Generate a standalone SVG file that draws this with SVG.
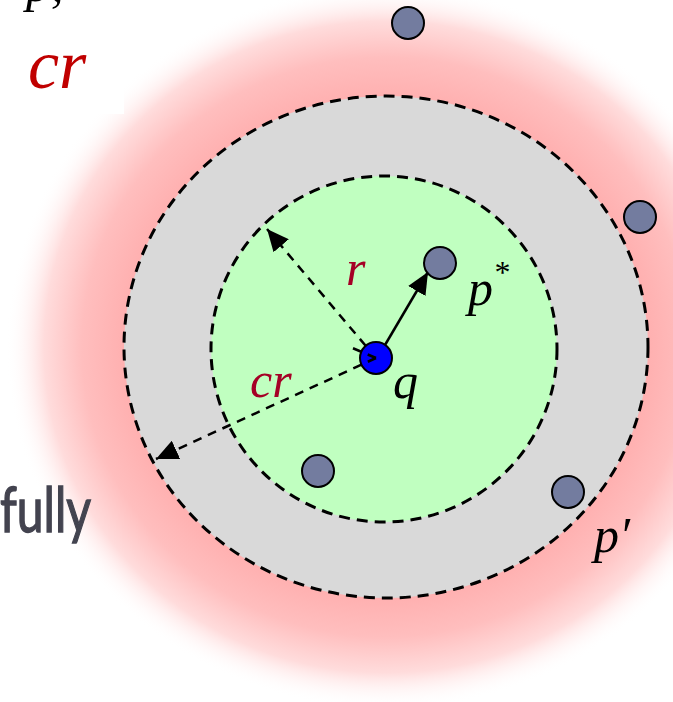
<svg xmlns="http://www.w3.org/2000/svg" width="673" height="702" viewBox="0 0 673 702">
<style>
.pt{fill:#737c9f;stroke:#000;stroke-width:2}
.ring{stroke:#000;stroke-width:3;stroke-dasharray:11 7}
.lbl{font-family:"Liberation Serif",serif;font-style:italic;font-size:50px;fill:#000}
.red{fill:#a50026}
.dash{stroke:#000;stroke-width:2.5;stroke-dasharray:9 7;fill:none}
</style>
<defs>
<radialGradient id="glow" cx="0.5" cy="0.5" r="0.5">
<stop offset="0" stop-color="#ffb0b0"/>
<stop offset="0.69" stop-color="#ffb0b0"/>
<stop offset="0.8" stop-color="#ffbebe"/>
<stop offset="0.9" stop-color="#ffdcdc"/>
<stop offset="1" stop-color="#ffffff" stop-opacity="0"/>
</radialGradient>
<marker id="ah" markerUnits="userSpaceOnUse" markerWidth="24" markerHeight="20" refX="22" refY="10" orient="auto">
<path d="M0,0 L22,10 L0,20 Z" fill="#000"/>
</marker>
</defs>
<rect width="673" height="702" fill="#fff"/>
<ellipse id="glow-area" cx="386" cy="347" rx="380" ry="362" fill="url(#glow)"/>
<rect x="0" y="0" width="124" height="114" fill="#fff"/>
<text class="lbl" x="26" y="1" font-size="50">p,</text>
<text class="lbl" x="28" y="88" style="font-size:70px;fill:#c00000">cr</text>
<text x="0" y="532" textLength="91" lengthAdjust="spacingAndGlyphs" style="font-family:Lato,'Open Sans',sans-serif;font-size:62px;fill:#43434f;stroke:#43434f;stroke-width:1.4">fully</text>
<g id="outer-ring"><ellipse class="ring" cx="386" cy="347" rx="262" ry="251" fill="#d9d9d9"/></g>
<g id="inner-ring"><circle class="ring" cx="384" cy="349" r="173" fill="#c0ffc0"/></g>
<g id="connectors">
<line x1="385" y1="345" x2="428" y2="272" stroke="#000" stroke-width="2.5" marker-end="url(#ah)"/>
<line class="dash" x1="376" y1="358" x2="267" y2="229" marker-end="url(#ah)"/>
</g>
<g id="q"><circle cx="376" cy="358" r="16" fill="#0000ff" stroke="#000" stroke-width="2"/></g>
<g id="connectors2">
<line class="dash" x1="376" y1="358" x2="350" y2="347"/>
<line class="dash" x1="376" y1="358" x2="156" y2="459" marker-end="url(#ah)"/>
</g>
<g id="p1"><circle class="pt" cx="408" cy="23" r="16"/></g>
<g id="p2"><circle class="pt" cx="640" cy="217" r="16"/></g>
<g id="pstar"><circle class="pt" cx="440" cy="263" r="16"/></g>
<g id="p4"><circle class="pt" cx="318" cy="471" r="16"/></g>
<g id="pprime"><circle class="pt" cx="568" cy="492" r="16"/></g>
<g id="labels">
<text class="lbl red" x="346" y="285">r</text>
<text class="lbl red" x="250" y="397">cr</text>
<text class="lbl" x="468" y="305">p<tspan font-size="32" dy="-22">*</tspan></text>
<text class="lbl" x="393" y="398">q</text>
<text class="lbl" x="594" y="552">p′</text>
</g>
</svg>
